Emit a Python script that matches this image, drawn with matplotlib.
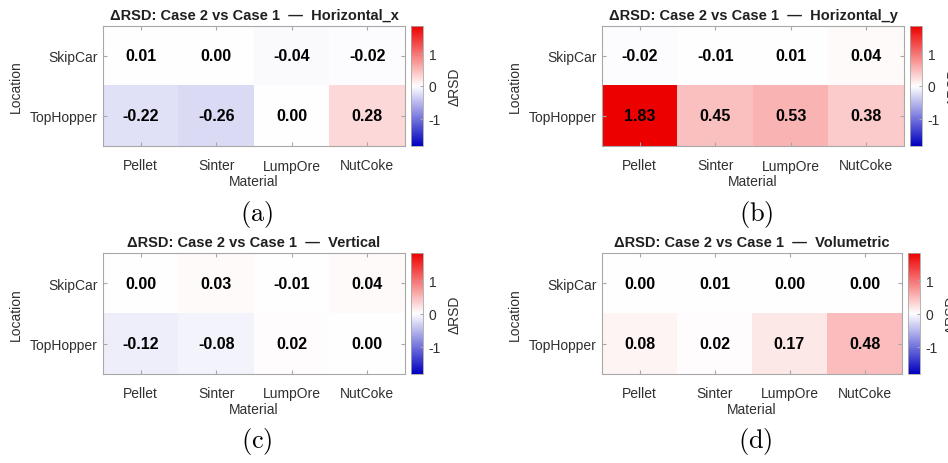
import matplotlib
matplotlib.use("Agg")
import matplotlib.pyplot as plt
import numpy as np
from matplotlib.colors import LinearSegmentedColormap

# ---------------------------------------------------------------------------
# Data
# ---------------------------------------------------------------------------

MATERIALS = ["Pellet", "Sinter", "LumpOre", "NutCoke"]
LOCATIONS = ["SkipCar", "TopHopper"]

HORIZONTAL_X = [[0.01, 0.00, -0.04, -0.02],
                [-0.22, -0.26, 0.00, 0.28]]
HORIZONTAL_Y = [[-0.02, -0.01, 0.01, 0.04],
                [1.83, 0.45, 0.53, 0.38]]
VERTICAL = [[0.00, 0.03, -0.01, 0.04],
            [-0.12, -0.08, 0.02, 0.00]]
VOLUMETRIC = [[0.00, 0.01, 0.00, 0.00],
              [0.08, 0.02, 0.17, 0.48]]

PANELS = [
    ("Horizontal_x", HORIZONTAL_X, "(a)"),
    ("Horizontal_y", HORIZONTAL_Y, "(b)"),
    ("Vertical", VERTICAL, "(c)"),
    ("Volumetric", VOLUMETRIC, "(d)"),
]

CLIM = 1.83

# ---------------------------------------------------------------------------
# Style
# ---------------------------------------------------------------------------

plt.rcParams.update({
    "font.family": ["Liberation Sans", "DejaVu Sans"],
    "font.size": 10,
    "axes.unicode_minus": False,
    "mathtext.fontset": "cm",
})

CMAP = LinearSegmentedColormap.from_list(
    "dbwr", [(0.0, 0.0, 0.75), (1, 1, 1), (0.93, 0.0, 0.0)])
EDGE = "#a8a8a8"
TXT = "#303030"

W, H = 948, 464
# axes boxes in pixels: left, top, right, bottom
BOXES = [
    (103, 27, 405, 147),
    (602, 27, 904, 147),
    (103, 254, 405, 375),
    (602, 254, 902, 375),
]


def px(box):
    l, t, r, b = box
    return [l / W, 1 - b / H, (r - l) / W, (b - t) / H]


fig = plt.figure(figsize=(W / 100, H / 100), dpi=100)

for (name, vals, tag), box in zip(PANELS, BOXES):
    data = np.array(vals)
    ax = fig.add_axes(px(box))
    im = ax.imshow(data, cmap=CMAP, vmin=-CLIM, vmax=CLIM, aspect="auto")
    for i in range(data.shape[0]):
        for j in range(data.shape[1]):
            ax.text(j, i, f"{data[i, j]:.2f}", ha="center", va="center",
                    fontsize=11.5, fontweight="bold", color="black")
    ax.set_xticks(range(len(MATERIALS)))
    ax.set_xticklabels(MATERIALS, color=TXT)
    ax.set_yticks(range(len(LOCATIONS)))
    ax.set_yticklabels(LOCATIONS, color=TXT)
    ax.tick_params(direction="in", length=3, color=EDGE, width=0.8,
                   top=True, right=True)
    ax.tick_params(axis="x", pad=9)
    ax.tick_params(axis="y", pad=4)
    for sp in ax.spines.values():
        sp.set_color(EDGE)
        sp.set_linewidth(0.8)
    ax.set_xlabel("Material", color=TXT, labelpad=1)
    ax.set_ylabel("Location", color=TXT, labelpad=5)
    ax.set_title(f"ΔRSD: Case 2 vs Case 1  —  {name}", fontsize=10.5,
                 fontweight="bold", color="#202020", pad=5)

    l, t, r, b = box
    cax = fig.add_axes(px((r + 6, t, r + 18, b)))
    cb = fig.colorbar(im, cax=cax)
    cb.set_ticks([-1, 0, 1])
    cb.ax.tick_params(direction="in", length=2, color=EDGE, labelsize=10,
                      labelcolor=TXT, pad=4)
    cb.outline.set_edgecolor(EDGE)
    cb.outline.set_linewidth(0.6)
    cb.set_label("ΔRSD", color=TXT, labelpad=5)

    cx = (l + r) / 2 / W + 0.003
    fig.text(cx, 1 - (b + 67) / H, r"$\mathrm{" + tag + "}$", ha="center",
             va="center", fontsize=19)

fig.savefig("out.png", dpi=100)
